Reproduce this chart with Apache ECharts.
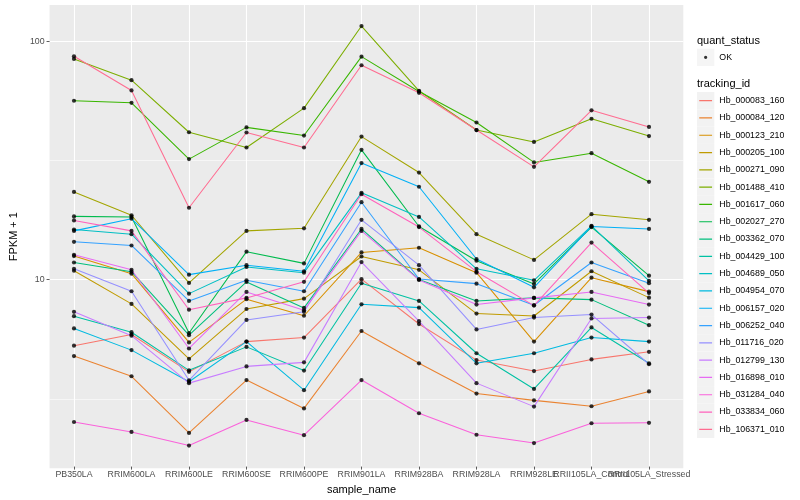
<!DOCTYPE html>
<html><head><meta charset="utf-8">
<script src="https://cdn.jsdelivr.net/npm/echarts@6/dist/echarts.min.js"></script>
<style>html,body{margin:0;padding:0;background:#fff}#c{width:800px;height:500px}</style>
</head><body><div id="c"></div>
<script>
const categories = ['PB350LA','RRIM600LA','RRIM600LE','RRIM600SE','RRIM600PE','RRIM901LA','RRIM928BA','RRIM928LA','RRIM928LE','RRII105LA_Control','RRII105LA_Stressed'];
const trackingIds = ['Hb_000083_160','Hb_000084_120','Hb_000123_210','Hb_000205_100','Hb_000271_090','Hb_001488_410','Hb_001617_060','Hb_002027_270','Hb_003362_070','Hb_004429_100','Hb_004689_050','Hb_004954_070','Hb_006157_020','Hb_006252_040','Hb_011716_020','Hb_012799_130','Hb_016898_010','Hb_031284_040','Hb_033834_060','Hb_106371_010'];
const colors = ['#F8766D','#EA8331','#D89000','#C09B00','#A3A500','#7CAE00','#39B600','#00BB4E','#00BF7D','#00C1A3','#00BFC4','#00BAE0','#00B0F6','#35A2FF','#9590FF','#C77CFF','#E76BF3','#FA62DB','#FF62BC','#FF6C91'];

// FPKM + 1 values per tracking_id, in category order
const hb_000083_160 = [5.22, 5.82, 4.05, 5.43, 5.65, 9.95, 6.44, 4.54, 4.08, 4.57, 4.92];
const hb_000084_120 = [4.72, 3.88, 2.24, 3.74, 2.84, 6.02, 4.40, 3.28, 3.07, 2.90, 3.35];
const hb_000123_210 = [12.45, 10.5, 5.39, 8.2, 6.98, 12.9, 13.5, 10.6, 5.43, 10.1, 8.82];
const hb_000205_100 = [10.8, 7.83, 4.59, 7.45, 8.24, 12.4, 10.9, 7.13, 6.96, 10.75, 8.32];
const hb_000271_090 = [23.2, 18.5, 9.6, 15.9, 16.3, 39.7, 28.0, 15.4, 12.0, 18.7, 17.7];
const hb_001488_410 = [84.3, 68.6, 41.4, 35.7, 52.3, 116, 61.9, 42.3, 37.7, 47.2, 39.9];
const hb_001617_060 = [56.2, 55.1, 31.9, 43.4, 40.1, 86.2, 61.5, 45.5, 30.9, 33.8, 25.6];
const hb_002027_270 = [18.3, 18.2, 5.9, 13.0, 11.6, 34.9, 16.6, 11.9, 9.5, 16.5, 10.3];
const hb_003362_070 = [11.7, 10.7, 5.78, 9.69, 7.53, 16.2, 9.92, 8.06, 8.30, 8.16, 6.37];
const hb_004429_100 = [6.95, 5.95, 4.11, 5.16, 4.10, 9.57, 8.06, 4.85, 3.43, 6.23, 4.40];
const hb_004689_050 = [16.1, 15.4, 8.65, 11.2, 10.6, 23.0, 18.2, 11.0, 9.84, 16.7, 9.8];
const hb_004954_070 = [6.17, 5.0, 3.68, 5.43, 3.39, 7.80, 7.55, 4.40, 4.85, 5.65, 5.43];
const hb_006157_020 = [15.9, 17.9, 10.4, 11.4, 10.75, 30.7, 24.4, 12.1, 9.2, 16.6, 16.2];
const hb_006252_040 = [14.3, 13.8, 8.06, 9.84, 8.85, 21.0, 9.97, 9.53, 7.73, 11.7, 9.57];
const hb_011716_020 = [11.0, 8.85, 3.73, 6.70, 7.25, 17.7, 11.4, 6.11, 6.86, 7.06, 4.36];
const hb_012799_130 = [7.25, 5.75, 3.63, 4.27, 4.44, 11.75, 6.62, 3.63, 2.89, 6.80, 6.86];
const hb_016898_010 = [12.6, 10.9, 5.08, 8.79, 7.36, 15.9, 9.88, 7.78, 8.30, 8.79, 7.78];
const hb_031284_040 = [2.49, 2.26, 1.98, 2.54, 2.19, 3.74, 2.71, 2.20, 2.03, 2.46, 2.47];
const hb_033834_060 = [17.6, 15.9, 7.4, 8.3, 9.7, 22.7, 16.5, 10.7, 7.7, 14.2, 8.7];
const hb_106371_010 = [86.5, 62.1, 19.9, 41.3, 35.7, 79.3, 60.7, 42.3, 29.6, 51.2, 43.6];

const seriesValues = [hb_000083_160, hb_000084_120, hb_000123_210, hb_000205_100, hb_000271_090, hb_001488_410, hb_001617_060, hb_002027_270, hb_003362_070, hb_004429_100, hb_004689_050, hb_004954_070, hb_006157_020, hb_006252_040, hb_011716_020, hb_012799_130, hb_016898_010, hb_031284_040, hb_033834_060, hb_106371_010];

const yMajorTicks = [10, 100];
const yMinorTicks = [3.162, 31.62];
const yMin = 1.615, yMax = 142.3;

const L = v => Math.log10(v);
const font = '"Liberation Sans", Arial, Helvetica, sans-serif';

const series = trackingIds.map((id, i) => ({
  name: id, type: 'line', xAxisIndex: 1, yAxisIndex: 2,
  data: seriesValues[i].map(L), symbol: 'none',
  lineStyle: { color: colors[i], width: 1.05 }, itemStyle: { color: colors[i] },
  silent: true, z: 2
}));
const pts = [];
seriesValues.forEach(arr => arr.forEach((v, j) => pts.push([j, L(v)])));
series.push({ name: 'OK', type: 'scatter', xAxisIndex: 1, yAxisIndex: 2, data: pts,
  symbol: 'circle', symbolSize: 4.2, itemStyle: { color: '#000' }, silent: true, z: 3 });

const linePath = 'path://M0,0L0.1,0L0.1,0.1L0,0.1Z M13,46.5L87,46.5L87,53.5L13,53.5Z M99.9,99.9L100,99.9L100,100L99.9,100Z';
const dotPath = 'path://M0,0L0.1,0L0.1,0.1L0,0.1Z M40.5,50A9.5,9.5 0 1,0 59.5,50A9.5,9.5 0 1,0 40.5,50Z M99.9,99.9L100,99.9L100,100L99.9,100Z';
const legendBase = { orient: 'vertical', left: 697, padding: 0, itemGap: 0, itemWidth: 17.3, itemHeight: 17.3, selectedMode: false };

const option = {
  animation: false,
  backgroundColor: '#fff',
  textStyle: { fontFamily: font },
  title: [
    { text: 'quant_status', left: 697, top: 35, padding: 0, textStyle: { fontSize: 11, fontWeight: 'normal', color: '#000', fontFamily: font } },
    { text: 'tracking_id', left: 697, top: 78.8, padding: 0, textStyle: { fontSize: 11, fontWeight: 'normal', color: '#000', fontFamily: font } }
  ],
  grid: [
    { left: 40, right: 116.7, top: 5, bottom: 31.7, show: true, backgroundColor: '#EBEBEB', borderWidth: 0 },
    { left: 74, right: 151, top: 5, bottom: 31.7 }
  ],
  xAxis: [
    { gridIndex: 0, type: 'value', show: false, min: 0, max: 1 },
    { gridIndex: 1, type: 'category', data: categories, boundaryGap: false,
      axisLine: { show: false },
      axisTick: { show: true, length: 3, lineStyle: { color: '#333', width: 0.8 } },
      axisLabel: { interval: 0, color: '#4D4D4D', fontSize: 8.8, margin: 3.5, hideOverlap: false, fontFamily: font },
      splitLine: { show: true, lineStyle: { color: '#fff', width: 1.1 } },
      name: 'sample_name', nameLocation: 'middle', nameGap: 14,
      nameTextStyle: { color: '#000', fontSize: 11, fontFamily: font } }
  ],
  yAxis: [
    { gridIndex: 0, type: 'value', min: L(yMin), max: L(yMax),
      axisLine: { show: false },
      axisTick: { show: true, length: 3, customValues: yMajorTicks.map(L), lineStyle: { color: '#333', width: 0.8 } },
      axisLabel: { customValues: yMajorTicks.map(L), formatter: v => String(Math.round(Math.pow(10, v))), color: '#4D4D4D', fontSize: 8.8, margin: 5, fontFamily: font },
      splitLine: { show: true, lineStyle: { color: '#fff', width: 1.1 } },
      name: 'FPKM + 1', nameLocation: 'middle', nameGap: 23,
      nameTextStyle: { color: '#000', fontSize: 11, fontFamily: font } },
    { gridIndex: 0, type: 'value', position: 'left', min: L(yMin), max: L(yMax),
      axisLine: { show: false },
      axisTick: { show: false, customValues: yMinorTicks.map(L) },
      axisLabel: { show: false, customValues: yMinorTicks.map(L) },
      splitLine: { show: true, lineStyle: { color: '#fff', width: 0.55 } } },
    { gridIndex: 1, type: 'value', min: L(yMin), max: L(yMax), show: false }
  ],
  legend: [
    Object.assign({}, legendBase, { data: ['OK'], top: 48.7, icon: 'rect',
      itemStyle: { color: '#F2F2F2', borderWidth: 0 }, textStyle: { color: 'rgba(0,0,0,0)', fontSize: 8.8 } }),
    Object.assign({}, legendBase, { data: ['OK'], top: 48.7, icon: dotPath,
      itemStyle: { color: '#000', borderWidth: 0 }, textStyle: { color: '#000', fontSize: 8.8, fontFamily: font } }),
    Object.assign({}, legendBase, { data: trackingIds, top: 92, icon: 'rect',
      itemStyle: { color: '#F2F2F2', borderWidth: 0 }, textStyle: { color: 'rgba(0,0,0,0)', fontSize: 8.8 } }),
    Object.assign({}, legendBase, { data: trackingIds, top: 92, icon: linePath,
      itemStyle: { borderWidth: 0 }, textStyle: { color: '#000', fontSize: 8.8, fontFamily: font } })
  ],
  series: series
};
const chart = echarts.init(document.getElementById('c'), null, { renderer: 'canvas' });
chart.setOption(option);
</script></body></html>
